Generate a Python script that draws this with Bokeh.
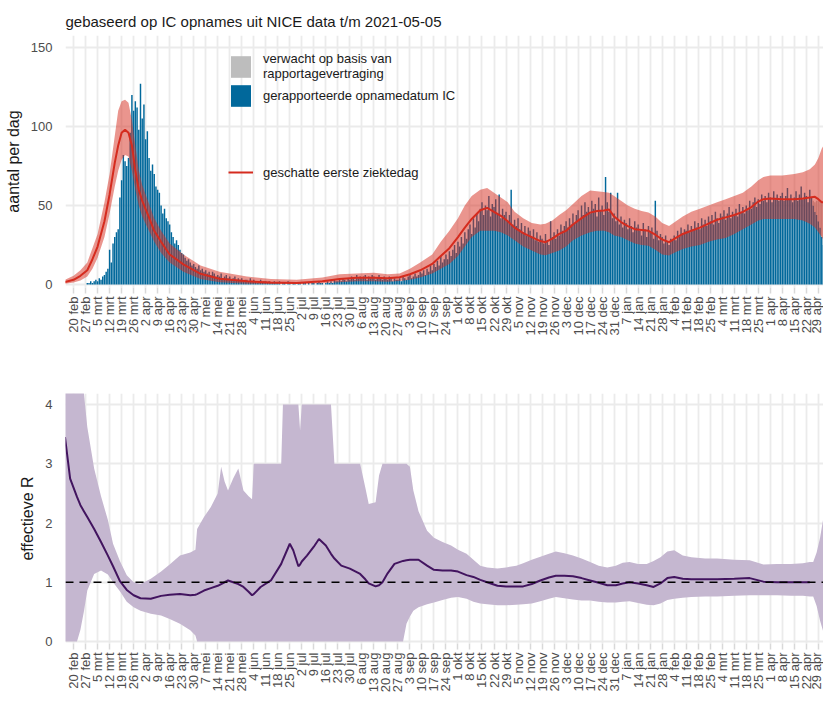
import math
import pandas as pd
from bokeh.plotting import figure
from bokeh.layouts import column
from bokeh.models import (ColumnDataSource, FixedTicker, Legend, LegendItem,
                          Span, Range1d)
from bokeh.embed import file_html
from bokeh.resources import INLINE

# ---------------------------------------------------------------- data
TITLE = "gebaseerd op IC opnames uit NICE data t/m 2021-05-05"
ORIGIN = "2020-02-20"            # day 0 of the x axis
MONTHS_NL = ["jan", "feb", "mrt", "apr", "mei", "jun",
             "jul", "aug", "sep", "okt", "nov", "dec"]
TICK_FIRST, TICK_LAST = "2020-02-20", "2021-04-29"

# daily reported IC admissions (gerapporteerde opnamedatum IC), from 2020-02-20, one row per week
reported_start = "2020-02-20"
reported = [
    0, 0, 0, 0, 0, 0, 0,
    0, 1, 1, 2, 1, 2, 3,
    2, 4, 3, 5, 6, 8, 10,
    22, 14, 26, 30, 33, 35, 55,
    66, 82, 78, 75, 80, 96, 120,
    110, 116, 112, 98, 127, 105, 114,
    92, 97, 80, 72, 76, 70, 62,
    60, 58, 50, 45, 48, 42, 40,
    38, 33, 30, 26, 28, 25, 22,
    20, 19, 17, 15, 16, 14, 12,
    13, 11, 10, 12, 9, 10, 8,
    9, 7, 8, 6, 8, 7, 5,
    6, 5, 7, 4, 5, 6, 4,
    5, 3, 4, 5, 3, 4, 3,
    4, 2, 3, 3, 2, 4, 2,
    3, 2, 1, 2, 3, 1, 2,
    2, 1, 2, 1, 1, 2, 1,
    1, 2, 0, 1, 1, 0, 2,
    1, 0, 1, 1, 0, 1, 1,
    0, 1, 1, 0, 1, 0, 1,
    1, 0, 1, 2, 1, 1, 0,
    1, 2, 1, 2, 1, 3, 2,
    2, 3, 2, 4, 3, 2, 4,
    3, 5, 4, 3, 6, 4, 5,
    4, 5, 6, 3, 5, 4, 6,
    5, 3, 4, 6, 4, 3, 5,
    4, 3, 5, 4, 2, 4, 3,
    3, 4, 2, 5, 4, 3, 5,
    6, 4, 5, 7, 5, 6, 8,
    7, 9, 6, 10, 8, 12, 9,
    13, 11, 15, 12, 18, 14, 16,
    19, 16, 21, 18, 22, 25, 20,
    27, 24, 30, 26, 33, 29, 35,
    38, 32, 42, 36, 45, 40, 48,
    52, 44, 50, 47, 56, 43, 51,
    49, 54, 45, 57, 42, 48, 44,
    46, 40, 44, 60, 38, 41, 37,
    42, 35, 39, 33, 37, 31, 36,
    34, 30, 35, 28, 33, 27, 31,
    29, 26, 32, 28, 25, 40, 30,
    33, 29, 35, 31, 38, 34, 37,
    40, 36, 42, 38, 45, 39, 44,
    47, 41, 50, 44, 52, 46, 49,
    45, 53, 48, 51, 43, 55, 47,
    50, 44, 68, 52, 46, 58, 42,
    45, 40, 58, 38, 43, 36, 41,
    39, 35, 42, 37, 33, 40, 36,
    38, 34, 31, 39, 35, 30, 37,
    33, 36, 29, 53, 34, 28, 32,
    30, 26, 31, 27, 25, 29, 28,
    31, 28, 34, 30, 36, 32, 35,
    34, 38, 33, 37, 35, 40, 36,
    39, 35, 42, 38, 41, 37, 43,
    40, 44, 38, 46, 42, 39, 45,
    43, 47, 41, 45, 49, 42, 46,
    44, 48, 43, 51, 46, 49, 45,
    50, 47, 53, 48, 52, 55, 49,
    54, 51, 57, 53, 56, 52, 58,
    55, 52, 59, 54, 57, 53, 56,
    58, 53, 56, 61, 54, 57, 52,
    55, 59, 53, 57, 62, 54, 58,
    56, 52, 60, 55, 50, 46, 44,
    40, 36, 30, 25,
]
# expected extra admissions (verwacht op basis van rapportagevertraging)
expected_start = "2021-04-26"
expected = [3, 6, 9, 13, 17, 22, 28]

# estimated first day of illness: days since ORIGIN, median and 95% band
epi_day = [-5, 0, 4, 8, 11, 14, 18, 21, 24, 26,
           28, 30, 32, 34, 36, 38, 40, 43, 47, 51,
           56, 64, 74, 85, 101, 115, 130, 145, 155, 165,
           175, 183, 190, 196, 202, 209, 214, 219, 224, 228,
           232, 237, 241, 245, 249, 253, 257, 262, 267, 272,
           275, 279, 283, 287, 291, 296, 301, 305, 309, 312,
           315, 319, 323, 327, 331, 335, 339, 343, 347, 351,
           355, 360, 365, 370, 375, 380, 385, 390, 395, 399,
           402, 406, 413, 420, 425, 429, 432, 434, 436, 437]
epi_mid = [1.5, 3, 5.5, 9, 16, 24, 40, 57, 77, 88,
           96, 98, 96, 88, 72, 60, 53, 45, 34, 27,
           19, 12.7, 6.8, 3.6, 2, 1.2, 1, 2, 3.5, 4.2,
           4.3, 4, 4.6, 6.5, 9, 13, 18, 23, 30, 36,
           41.5, 47, 48.5, 46, 43.5, 40, 36, 32.5, 30, 27.5,
           26.8, 29, 32, 34, 38, 42, 45.5, 46.5, 46.8, 47.5,
           43, 39.5, 37, 35, 34.5, 34, 31.5, 28.5, 26.8, 29.5,
           32, 34, 36, 38.5, 41, 42.5, 44, 46, 49, 52.5,
           54, 54.5, 54, 54, 54.5, 55, 55.5, 54, 52, 52]
epi_lo = [0.5, 1.2, 2.5, 5, 10, 17, 30, 45, 62, 72,
          79, 82, 81, 72, 60, 50, 43, 36, 27, 20,
          14, 8, 3.5, 1.5, 0.5, 0.3, 0.3, 0.8, 1.5, 2,
          2, 1.8, 2.2, 3, 4.5, 7, 10, 13, 18, 24,
          30, 34, 34, 34, 33, 31, 28, 24, 21.5, 19,
          18.5, 20, 21.5, 24, 28, 31, 33, 34, 34, 33,
          31, 30, 28, 26, 25, 24.5, 22, 19, 18.4, 20.5,
          22.5, 24, 25, 27, 28.5, 29.5, 32, 35, 38, 40.5,
          41.5, 41.5, 41.5, 41.5, 40.5, 38.5, 36, 33, 30, 28]
epi_hi = [3, 5.5, 9, 14, 23, 32, 52, 70, 94, 110,
          116, 117, 115, 104, 88, 72, 63, 54, 42, 34,
          26, 19, 12, 8, 5, 3.5, 3, 4.5, 6.5, 7,
          7.5, 6.5, 7, 10, 14, 19, 27, 34, 42, 50,
          56, 60, 61, 58, 55, 52, 46, 42, 39, 38,
          38.5, 40.5, 44, 47, 51, 56, 59.5, 59, 58.5, 58,
          56, 53, 50, 48, 46.5, 45.5, 43, 39, 37, 40,
          43, 46, 48, 50, 52, 54, 56, 58, 62, 66,
          68, 69, 69, 70, 71, 73, 76, 80, 86, 88]

# effective R: days since ORIGIN, median and 95% band
NA = float("nan")
r_day = [-5, -2, 2, 4, 6, 8, 12, 16, 20, 23,
         27, 31, 35, 39, 45, 51, 56, 62, 68, 71,
         72, 76, 80, 84, 86, 88, 90, 93, 96, 99,
         102, 104, 105, 109, 115, 121, 122, 126, 128, 131,
         132, 133, 136, 140, 143, 147, 150, 152, 156, 161,
         167, 170, 172, 176, 178, 180, 183, 187, 192, 194,
         196, 198, 201, 206, 210, 215, 220, 224, 229, 233,
         237, 241, 247, 252, 258, 262, 267, 272, 277, 281,
         286, 291, 296, 301, 306, 311, 316, 320, 324, 329,
         334, 338, 342, 346, 350, 355, 360, 368, 375, 385,
         394, 402, 410, 418, 425, 429, 431, 433, 435, 437]
r_mid = [3.45, 2.75, 2.44, 2.3, 2.2, 2.1, 1.9, 1.68, 1.45, 1.27,
         1.02, 0.87, 0.78, 0.73, 0.72, 0.77, 0.79, 0.80, 0.78, 0.79,
         0.80, 0.86, 0.90, 0.94, 0.97, 1.0, 1.03, 1.0, 0.97, 0.92,
         0.84, 0.78, 0.8, 0.92, 1.03, 1.31, 1.38, 1.65, 1.54, 1.27,
         1.3, 1.35, 1.45, 1.6, 1.73, 1.62, 1.48, 1.40, 1.28, 1.23,
         1.14, 1.05, 0.98, 0.93, 0.95, 1.0, 1.15, 1.31, 1.36, 1.37,
         1.38, 1.38, 1.38, 1.28, 1.21, 1.20, 1.20, 1.18, 1.12, 1.09,
         1.04, 1.0, 0.94, 0.93, 0.93, 0.93, 0.97, 1.03, 1.08, 1.11,
         1.11, 1.10, 1.07, 1.03, 0.99, 0.95, 0.95, 0.98, 1.0, 0.98,
         0.95, 0.92, 0.98, 1.07, 1.09, 1.06, 1.05, 1.05, 1.05, 1.06,
         1.07, 1.01, 1.0, 1.0, 1.0, 1.0, NA, NA, NA, NA]
r_lo = [0, 0, 0, 0.2, 0.5, 0.86, 1.14, 1.20, 1.13, 1.0,
        0.85, 0.67, 0.58, 0.52, 0.47, 0.44, 0.38, 0.3, 0.19, 0.1,
        0, 0, 0, 0, 0, 0, 0, 0, 0, 0,
        0, 0, 0, 0, 0, 0, 0, 0, 0, 0,
        0, 0, 0, 0, 0, 0, 0, 0, 0, 0,
        0, 0, 0, 0, 0, 0, 0, 0, 0, 0.3,
        0.42, 0.52, 0.58, 0.63, 0.66, 0.70, 0.74, 0.75, 0.72, 0.67,
        0.64, 0.63, 0.61, 0.61, 0.62, 0.63, 0.64, 0.68, 0.72, 0.75,
        0.73, 0.71, 0.69, 0.69, 0.67, 0.66, 0.66, 0.67, 0.68, 0.65,
        0.62, 0.61, 0.64, 0.70, 0.72, 0.74, 0.75, 0.76, 0.76, 0.77,
        0.78, 0.78, 0.78, 0.77, 0.77, 0.76, 0.76, 0.6, 0.35, 0.15]
r_hi = [6, 6, 6, 5.5, 4.2, 3.62, 2.92, 2.45, 2.05, 1.65,
        1.36, 1.12, 1.0, 0.97, 1.06, 1.18, 1.3, 1.45, 1.5, 1.55,
        1.9, 2.1, 2.27, 2.5, 2.95, 2.7, 2.55, 2.75, 2.92, 2.55,
        2.45, 2.4, 3.0, 3.0, 3.0, 3.0, 4.0, 4.0, 4.0, 4.0,
        3.56, 4.0, 4.0, 4.0, 4.0, 4.0, 4.0, 3.0, 3.0, 3.0,
        3.0, 2.6, 2.32, 2.35, 2.8, 3.0, 3.0, 3.0, 3.0, 3.0,
        2.95, 2.55, 2.2, 1.87, 1.75, 1.68, 1.62, 1.55, 1.48, 1.38,
        1.28, 1.25, 1.23, 1.25, 1.28, 1.32, 1.38, 1.43, 1.48, 1.52,
        1.49, 1.45, 1.40, 1.34, 1.28, 1.25, 1.28, 1.33, 1.34, 1.31,
        1.31, 1.36, 1.42, 1.52, 1.54, 1.45, 1.42, 1.40, 1.40, 1.38,
        1.37, 1.30, 1.31, 1.31, 1.32, 1.34, 1.34, 1.5, 1.75, 2.1]

# ---------------------------------------------------------------- helpers
origin = pd.Timestamp(ORIGIN)


def days_from(start, n):
    d0 = (pd.Timestamp(start) - origin).days
    return [d0 + i for i in range(n)]


tick_dates = pd.date_range(TICK_FIRST, TICK_LAST, freq="7D")
tick_pos = [int((d - origin).days) for d in tick_dates]
tick_lab = {p: f"{d.day} {MONTHS_NL[d.month - 1]}" for p, d in zip(tick_pos, tick_dates)}

FONT = "Liberation Sans"
GRID = "#EBEBEB"
TXT = "#4D4D4D"
BLUE = "#01689B"
RED = "#D52B1E"
PURPLE = "#42145F"

x_range = Range1d(-4.7, 437)


def style(p, ylab, yticks):
    p.outline_line_color = None
    p.background_fill_color = "white"
    p.border_fill_color = "white"
    for ax in (p.xaxis[0], p.yaxis[0]):
        ax.axis_line_color = None
        ax.minor_tick_line_color = None
        ax.major_label_text_font = FONT
        ax.major_label_text_color = TXT
    xa = p.xaxis[0]
    xa.ticker = FixedTicker(ticks=tick_pos)
    xa.major_label_overrides = tick_lab
    xa.major_label_orientation = math.pi / 2
    xa.major_label_text_font_size = "13px"
    xa.major_tick_line_color = "#D9D9D9"
    xa.major_tick_line_width = 1.5
    xa.major_tick_out = 6
    xa.major_tick_in = 0
    xa.major_label_standoff = 3
    ya = p.yaxis[0]
    ya.ticker = FixedTicker(ticks=yticks)
    ya.major_tick_line_color = None
    ya.major_label_text_font_size = "13px"
    ya.major_label_standoff = 7
    ya.axis_label = ylab
    ya.axis_label_text_font = FONT
    ya.axis_label_text_font_size = "16px"
    ya.axis_label_text_font_style = "normal"
    ya.axis_label_text_color = "#1A1A1A"
    ya.axis_label_standoff = 6
    p.xgrid.ticker = FixedTicker(ticks=tick_pos)
    p.ygrid.ticker = FixedTicker(ticks=yticks)
    for g in (p.xgrid[0], p.ygrid[0]):
        g.grid_line_color = GRID
        g.grid_line_width = 1.8


W = 823

# ---------------------------------------------------------------- top panel
p1 = figure(width=W, height=358, output_backend="svg", toolbar_location=None,
            x_range=x_range, y_range=Range1d(-1.9, 157.6),
            min_border_left=65, min_border_right=0, min_border_top=35,
            min_border_bottom=71, title=TITLE)
p1.title.text_font = FONT
p1.title.text_font_size = "15px"
p1.title.text_font_style = "normal"
p1.title.text_color = "#1A1A1A"
p1.title.standoff = 12
style(p1, "aantal per dag", [0, 50, 100, 150])

rep_x = days_from(reported_start, len(reported))
exp_x = days_from(expected_start, len(expected))
exp_base = [reported[rep_x.index(x)] for x in exp_x]
src_rep = ColumnDataSource(dict(x=rep_x, top=reported))
src_exp = ColumnDataSource(dict(x=exp_x, bottom=exp_base,
                                top=[b + e for b, e in zip(exp_base, expected)]))
r_rep = p1.vbar(x="x", top="top", bottom=0, width=0.85, source=src_rep,
                fill_color=BLUE, line_color=None)
r_exp = p1.vbar(x="x", top="top", bottom="bottom", width=0.85, source=src_exp,
                fill_color="#BDBDBD", line_color=None)
src_epi = ColumnDataSource(dict(x=epi_day, mid=epi_mid, lo=epi_lo, hi=epi_hi))
p1.varea(x="x", y1="lo", y2="hi", source=src_epi, fill_color=RED, fill_alpha=0.5)
r_line = p1.line(x="x", y="mid", source=src_epi, line_color=RED, line_width=2)

leg_kw = dict(padding=0, margin=0, border_line_color=None, background_fill_alpha=0,
              label_text_font=FONT, label_text_font_size="13px",
              label_text_color="#1A1A1A", label_standoff=10, glyph_width=25,
              label_text_line_height=1.05)
leg1 = Legend(items=[LegendItem(label="verwacht op basis van\nrapportagevertraging", renderers=[r_exp]),
                     LegendItem(label="gerapporteerde opnamedatum IC", renderers=[r_rep])],
              location=(163, 178), glyph_height=27, spacing=1, **leg_kw)
leg2 = Legend(items=[LegendItem(label="geschatte eerste ziektedag", renderers=[r_line])],
              location=(163, 105), glyph_height=20, spacing=0, **leg_kw)
p1.add_layout(leg1)
p1.add_layout(leg2)

# ---------------------------------------------------------------- bottom panel
p2 = figure(width=W, height=339, output_backend="svg", toolbar_location=None,
            x_range=x_range, y_range=Range1d(-0.034, 4.186),
            min_border_left=65, min_border_right=0, min_border_top=35,
            min_border_bottom=54)
style(p2, "effectieve R", [0, 1, 2, 3, 4])
src_r = ColumnDataSource(dict(x=r_day, mid=r_mid, lo=r_lo, hi=r_hi))
p2.varea(x="x", y1="lo", y2="hi", source=src_r, fill_color="#C5B7D0")
p2.line(x="x", y="mid", source=src_r, line_color=PURPLE, line_width=2)
p2.add_layout(Span(location=1, dimension="width", line_color="black",
                   line_width=1.5, line_dash="8 6"))

layout = column(p1, p2, spacing=0)
open("out.html", "w").write(file_html(layout, INLINE))
